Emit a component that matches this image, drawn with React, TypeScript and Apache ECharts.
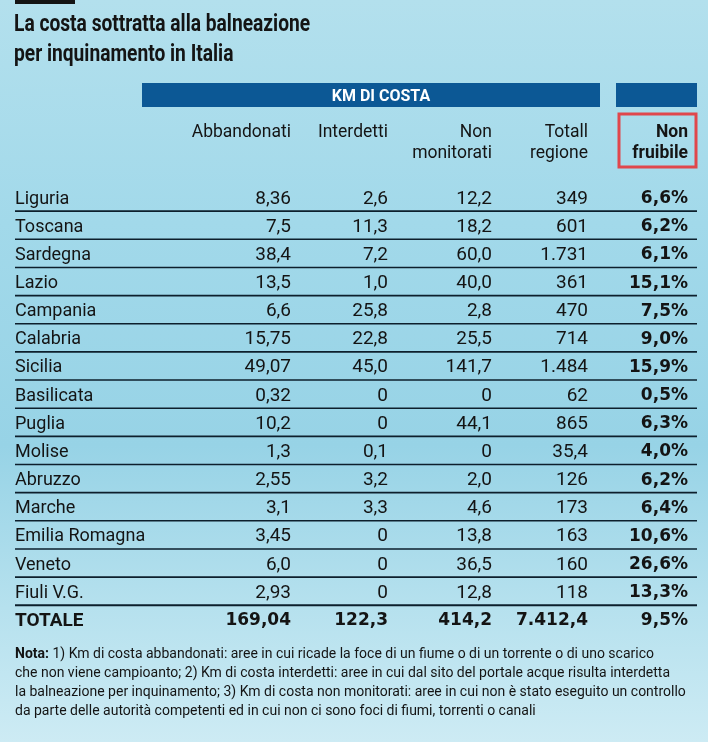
import React, { useEffect, useRef } from "react";
import * as echarts from "echarts";

// ---- data ----
const title = ["La costa sottratta alla balneazione", "per inquinamento in Italia"];
const groupHeader = "KM DI COSTA";
const columnHeaders = [["Abbandonati"], ["Interdetti"], ["Non", "monitorati"], ["Totall", "regione"], ["Non", "fruibile"]];
const regions = ["Liguria", "Toscana", "Sardegna", "Lazio", "Campania", "Calabria", "Sicilia", "Basilicata", "Puglia", "Molise", "Abruzzo", "Marche", "Emilia Romagna", "Veneto", "Fiuli V.G."];
const abbandonati = ["8,36", "7,5", "38,4", "13,5", "6,6", "15,75", "49,07", "0,32", "10,2", "1,3", "2,55", "3,1", "3,45", "6,0", "2,93"];
const interdetti = ["2,6", "11,3", "7,2", "1,0", "25,8", "22,8", "45,0", "0", "0", "0,1", "3,2", "3,3", "0", "0", "0"];
const nonMonitorati = ["12,2", "18,2", "60,0", "40,0", "2,8", "25,5", "141,7", "0", "44,1", "0", "2,0", "4,6", "13,8", "36,5", "12,8"];
const totaleRegione = ["349", "601", "1.731", "361", "470", "714", "1.484", "62", "865", "35,4", "126", "173", "163", "160", "118"];
const nonFruibile = ["6,6%", "6,2%", "6,1%", "15,1%", "7,5%", "9,0%", "15,9%", "0,5%", "6,3%", "4,0%", "6,2%", "6,4%", "10,6%", "26,6%", "13,3%"];
const totalLabel = "TOTALE";
const totalRow = ["169,04", "122,3", "414,2", "7.412,4", "9,5%"];
const notes = [
  "1) Km di costa abbandonati: aree in cui ricade la foce di un fiume o di un torrente o di uno scarico",
  "che non viene campioanto; 2) Km di costa interdetti: aree in cui dal sito del portale acque risulta interdetta",
  "la balneazione per inquinamento; 3) Km di costa non monitorati: aree in cui non è stato eseguito un controllo",
  "da parte delle autorità competenti ed in cui non ci sono foci di fiumi, torrenti o canali",
];

// ---- layout / style ----
const W = 708;
const H = 742;
const SANS = "Roboto, 'Noto Sans', sans-serif";
const BOLDNUM = "'DejaVu Sans', Roboto, sans-serif";
const INK = "#141414";
const BLUE = "#0c5895";
const RED = "#e0474c";
const colRight = [291, 388, 492, 588, 688];
const nameX = 15;
const lineX1 = 15;
const lineX2 = 697;

export default function App() {
  const ref = useRef<HTMLDivElement>(null);
  useEffect(() => {
    if (!ref.current) return;
    const chart = echarts.init(ref.current, null, { renderer: "svg" });
    const rowNames = [...regions, totalLabel];
    const rows = regions.map((_, i) => [abbandonati[i], interdetti[i], nonMonitorati[i], totaleRegione[i], nonFruibile[i]]);
    rows.push(totalRow);

    const graphics: any[] = [];
    // background
    graphics.push({
      type: "rect", left: 0, top: 0, z: -10, silent: true,
      shape: { width: W, height: H },
      style: {
        fill: new echarts.graphic.LinearGradient(0, 0, 0, 1, [
          { offset: 0, color: "#b3e0ed" },
          { offset: 0.3, color: "#a2d9ea" },
          { offset: 0.6, color: "#97d3e6" },
          { offset: 0.82, color: "#b6e1ee" },
          { offset: 1, color: "#cdebf4" },
        ]),
      },
    });
    graphics.push({ type: "rect", shape: { x: 15, y: 0, width: 60, height: 4 }, style: { fill: INK } });
    title.forEach((t, i) => {
      graphics.push({
        type: "text", x: 14, y: 23 + i * 30, scaleX: 0.8,
        style: { text: t, fontSize: 24, fontWeight: "bold", fontFamily: SANS, fill: INK, verticalAlign: "middle" },
      });
    });
    // header bars
    graphics.push({ type: "rect", shape: { x: 142, y: 83, width: 458, height: 24 }, style: { fill: BLUE } });
    graphics.push({ type: "rect", shape: { x: 616, y: 83, width: 81, height: 24 }, style: { fill: BLUE } });
    graphics.push({
      type: "text", x: 381, y: 95,
      style: { text: groupHeader, fontSize: 16, fontWeight: "bold", fontFamily: SANS, fill: "#ffffff", align: "center", verticalAlign: "middle" },
    });
    graphics.push({ type: "rect", shape: { x: 619, y: 114, width: 77, height: 53 }, style: { fill: "none", stroke: RED, lineWidth: 3 } });
    columnHeaders.forEach((lines, c) => {
      lines.forEach((t, l) => {
        graphics.push({
          type: "text", x: colRight[c], y: 131 + l * 21,
          style: { text: t, fontSize: 17.5, fontWeight: c === 4 ? "bold" : "normal", fontFamily: SANS, fill: INK, align: "right", verticalAlign: "middle" },
        });
      });
    });
    notes.forEach((t, i) => {
      graphics.push({
        type: "text", x: 15, y: 653 + i * 19,
        style: {
          text: i === 0 ? "{b|Nota:} " + t : t,
          fontSize: 14, fontFamily: SANS, fill: INK, verticalAlign: "middle",
          rich: { b: { fontSize: 14, fontFamily: SANS, fontWeight: "bold", fill: INK } },
        },
      });
    });

    chart.setOption({
      animation: false,
      grid: { left: 0, right: 0, top: 183, height: 28.15 * rowNames.length },
      xAxis: { type: "value", min: 0, max: W, show: false },
      yAxis: { type: "category", data: rowNames, inverse: true, show: false },
      graphic: graphics,
      series: [
        {
          type: "custom",
          clip: false,
          encode: { x: 0, y: 1 },
          data: rowNames.map((_, i) => [0, i]),
          renderItem: (params: any, api: any) => {
            const i = params.dataIndex;
            const isTotal = i === rowNames.length - 1;
            const pt = api.coord([0, i]);
            const cy = pt[1];
            const band = api.size([0, 1])[1];
            const children: any[] = [];
            children.push({
              type: "text",
              style: {
                x: nameX, y: cy, text: rowNames[i], fill: INK, verticalAlign: "middle", align: "left",
                fontFamily: SANS, fontSize: isTotal ? 19 : 18, fontWeight: isTotal ? "bold" : "normal",
              },
            });
            rows[i].forEach((v, c) => {
              const bold = isTotal || c === 4;
              const x = api.coord([colRight[c], i])[0];
              children.push({
                type: "text",
                style: {
                  x, y: cy, text: v, fill: INK, verticalAlign: "middle", align: "right",
                  fontFamily: bold ? BOLDNUM : SANS, fontSize: bold ? 17 : 19, fontWeight: bold ? "bold" : "normal",
                },
              });
            });
            if (!isTotal) {
              const ly = cy + band / 2;
              children.push({
                type: "line",
                shape: { x1: api.coord([lineX1, i])[0], y1: ly, x2: api.coord([lineX2, i])[0], y2: ly },
                style: { stroke: "#0d1f2c", lineWidth: i === rowNames.length - 2 ? 2 : 1.6 },
              });
            }
            return { type: "group", children };
          },
        },
      ],
    });
    return () => chart.dispose();
  }, []);
  return <div ref={ref} style={{ position: "fixed", left: 0, top: 0, width: W, height: H }} />;
}
